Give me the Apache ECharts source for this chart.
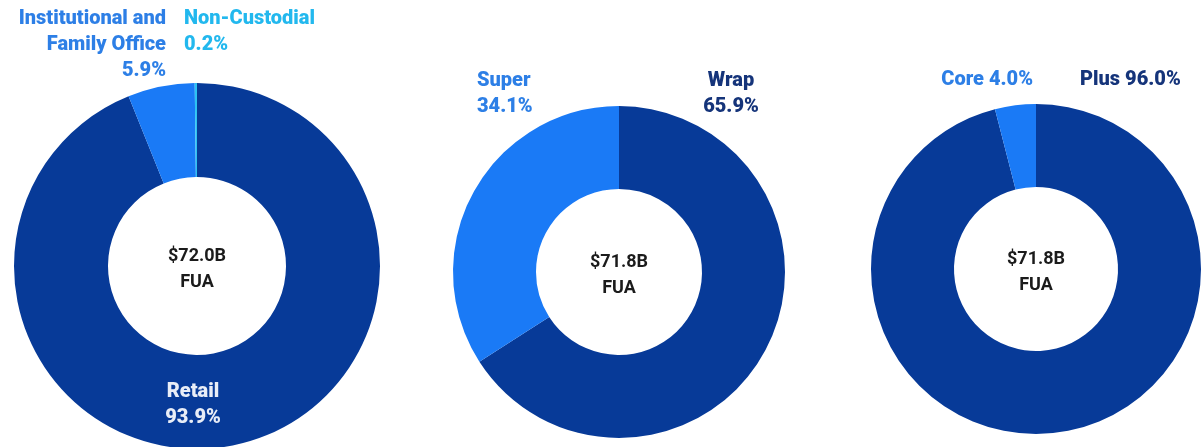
<!DOCTYPE html>
<html>
<head>
<meta charset="utf-8">
<script src="https://cdn.jsdelivr.net/npm/echarts@6/dist/echarts.min.js"></script>
<style>
html,body{margin:0;padding:0;background:#fff;}
#c{width:1203px;height:447px;}
</style>
</head>
<body>
<div id="c"></div>
<script>
// ---- data ----
const chart1Names = ['Retail', 'Institutional and\nFamily Office', 'Non-Custodial'];
const chart1Values = [93.9, 5.9, 0.2];
const chart1Total = '$72.0B';

const chart2Names = ['Wrap', 'Super'];
const chart2Values = [65.9, 34.1];
const chart2Total = '$71.8B';

const chart3Names = ['Plus', 'Core'];
const chart3Values = [96.0, 4.0];
const chart3Total = '$71.8B';

const centerUnit = 'FUA';

// ---- styling / layout ----
const DARK = '#073a98';
const MID = '#1a7af6';
const CYAN = '#2cc3f3';
const FONT = 'Roboto, "Noto Sans", sans-serif';

const charts = [
  {
    names: chart1Names, values: chart1Values, total: chart1Total,
    center: [197, 266], radius: [89, 183],
    colors: [DARK, MID, CYAN],
    labelColors: ['#e8edf7', '#2d7fe6', '#22b8ee'],
    sep: ['\n', '\n', '\n'],
    labelPos: [
      {x: 193, y: 405, align: 'center'},
      {x: 166, y: 45, align: 'right'},
      {x: 184, y: 32, align: 'left'}
    ]
  },
  {
    names: chart2Names, values: chart2Values, total: chart2Total,
    center: [619, 272], radius: [83, 166],
    colors: [DARK, MID],
    labelColors: ['#15347a', '#2d7fe6'],
    sep: ['\n', '\n'],
    labelPos: [
      {x: 731, y: 94, align: 'center'},
      {x: 477, y: 94, align: 'left'}
    ]
  },
  {
    names: chart3Names, values: chart3Values, total: chart3Total,
    center: [1036, 269], radius: [82, 165],
    colors: [DARK, MID],
    labelColors: ['#15347a', '#2d7fe6'],
    sep: [' ', ' '],
    labelPos: [
      {x: 1080, y: 80, align: 'left'},
      {x: 1033, y: 80, align: 'right'}
    ]
  }
];

const series = charts.map(function (c) {
  return {
    type: 'pie',
    center: c.center,
    radius: c.radius,
    startAngle: 90,
    clockwise: true,
    silent: true,
    animation: false,
    avoidLabelOverlap: false,
    itemStyle: {borderWidth: 0},
    labelLine: {show: false},
    data: c.names.map(function (n, i) {
      return {
        name: n,
        value: c.values[i],
        itemStyle: {color: c.colors[i]},
        label: {
          show: true,
          position: 'outside',
          formatter: n + c.sep[i] + c.values[i].toFixed(1) + '%',
          color: c.labelColors[i],
          fontFamily: FONT,
          fontWeight: 900,
          fontSize: 20,
          lineHeight: 26,
          align: c.labelPos[i].align
        }
      };
    }),
    labelLayout: function (p) {
      const lp = c.labelPos[p.dataIndex];
      return {x: lp.x, y: lp.y, align: lp.align, verticalAlign: 'middle', hideOverlap: false, moveOverlap: null};
    }
  };
});

const graphics = charts.map(function (c) {
  return {
    type: 'text',
    x: c.center[0],
    y: c.center[1] + 3,
    style: {
      text: c.total + '\n' + centerUnit,
      fill: '#1b1b1b',
      font: 'bold 18px ' + FONT,
      lineHeight: 26,
      align: 'center',
      verticalAlign: 'middle'
    }
  };
});

const chart = echarts.init(document.getElementById('c'), null, {renderer: 'canvas'});
chart.setOption({
  animation: false,
  backgroundColor: '#ffffff',
  series: series,
  graphic: graphics
});
</script>
</body>
</html>
